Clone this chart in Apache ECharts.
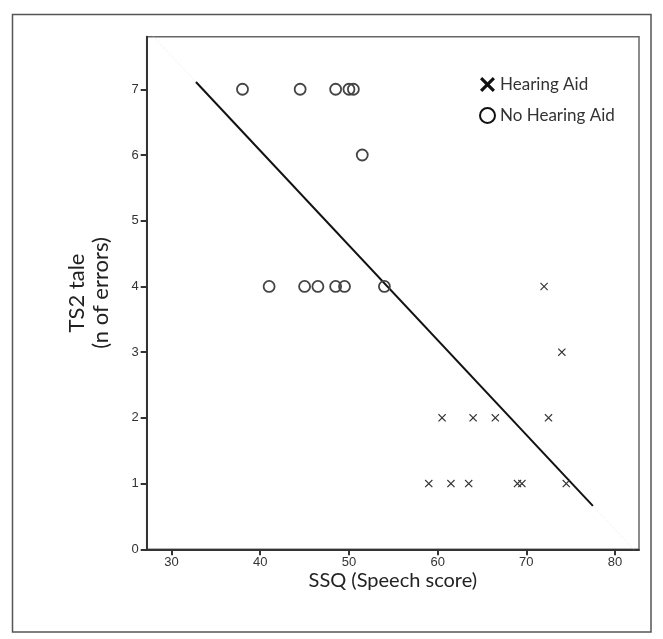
<!DOCTYPE html>
<html>
<head>
<meta charset="utf-8">
<script src="https://cdn.jsdelivr.net/npm/echarts@6/dist/echarts.min.js"></script>
<style>
html, body { margin: 0; padding: 0; background: #fff; }
#chart { width: 663px; height: 639px; }
</style>
</head>
<body>
<div id="chart"></div>
<script>
// 数据
var noAidSSQ = [38, 44.5, 48.5, 50, 50.5, 51.5, 41, 45, 46.5, 48.5, 49.5, 54];
var noAidErr = [7, 7, 7, 7, 7, 6, 4, 4, 4, 4, 4, 4];
var aidSSQ = [72, 74, 60.5, 64, 66.5, 72.5, 59, 61.5, 63.5, 69, 69.5, 74.5];
var aidErr = [4, 3, 2, 2, 2, 2, 1, 1, 1, 1, 1, 1];
var fitX = [32.75, 77.5];
var fitY = [7.11, 0.66];
var fitExtX = [27.96, 82.1];
var fitExtY = [7.8, 0];
var xTicks = [30, 40, 50, 60, 70, 80];
var yTicks = [0, 1, 2, 3, 4, 5, 6, 7];

function pairs(xs, ys) {
    var out = [];
    for (var i = 0; i < xs.length; i++) out.push([xs[i], ys[i]]);
    return out;
}

var crossPath = 'path://M1,0 L5,4 L9,0 L10,1 L6,5 L10,9 L9,10 L5,6 L1,10 L0,9 L4,5 L0,1 Z';
// 图例里的叉更粗
var boldCross = 'path://M1.5,0 L5,3.5 L8.5,0 L10,1.5 L6.5,5 L10,8.5 L8.5,10 L5,6.5 L1.5,10 L0,8.5 L3.5,5 L0,1.5 Z';
var font = 'Liberation Sans, Arial, sans-serif';
var titleFont = 'Lato, Open Sans, sans-serif';

var myChart = echarts.init(document.getElementById('chart'));
var option = {
    animation: false,
    backgroundColor: '#fff',
    graphic: [{
        type: 'rect',
        shape: { x: 12.5, y: 14.5, width: 638.5, height: 617.5 },
        style: { fill: 'none', stroke: '#555', lineWidth: 1.5 },
        z: -1
    }],
    grid: {
        left: 146.7, top: 36.7, width: 492.3, height: 512.6,
        show: true, borderColor: '#666', borderWidth: 1.5, backgroundColor: '#fff'
    },
    legend: {
        left: 474, top: 71, orient: 'vertical',
        itemWidth: 15, itemHeight: 15, itemGap: 14,
        textStyle: { fontFamily: titleFont, fontSize: 17, color: '#333' },
        data: [
            { name: 'Hearing Aid', icon: boldCross, itemStyle: { color: '#111', borderWidth: 0 } },
            { name: 'No Hearing Aid', icon: 'circle', itemStyle: { color: '#fff', borderColor: '#111', borderWidth: 2 } }
        ]
    },
    xAxis: {
        type: 'value', min: 27.2, max: 82.7,
        name: 'SSQ (Speech score)', nameLocation: 'middle', nameGap: 21, nameMoveOverlap: false,
        nameTextStyle: { fontFamily: titleFont, fontSize: 20, color: '#222', verticalAlign: 'top' },
        axisLine: { onZero: false, lineStyle: { color: '#333', width: 2 } },
        axisTick: { show: true, length: 6, customValues: xTicks, lineStyle: { color: '#333', width: 2 } },
        axisLabel: { customValues: xTicks, fontFamily: font, fontSize: 13, color: '#333', margin: 7 },
        splitLine: { show: false }
    },
    yAxis: {
        type: 'value', min: 0, max: 7.8,
        name: 'TS2 tale\n(n of errors)', nameLocation: 'middle', nameGap: 34, nameRotate: 90, nameMoveOverlap: false,
        nameTextStyle: { fontFamily: titleFont, fontSize: 22, lineHeight: 24, color: '#222', align: 'center' },
        axisLine: { onZero: false, lineStyle: { color: '#333', width: 2 } },
        axisTick: { show: true, length: 6, customValues: yTicks, lineStyle: { color: '#333', width: 2 } },
        axisLabel: { customValues: yTicks, fontFamily: font, fontSize: 13, color: '#333', margin: 8 },
        splitLine: { show: false }
    },
    series: [
        {
            name: 'fit-ext', type: 'line', data: pairs(fitExtX, fitExtY),
            symbol: 'none', silent: true,
            lineStyle: { color: '#ececec', width: 1, type: 'dotted' }, z: 1
        },
        {
            name: 'fit', type: 'line', data: pairs(fitX, fitY),
            symbol: 'none', silent: true,
            lineStyle: { color: '#111', width: 2 }, z: 2
        },
        {
            name: 'Hearing Aid', type: 'scatter', data: pairs(aidSSQ, aidErr),
            symbol: crossPath, symbolSize: 8,
            itemStyle: { color: '#333', opacity: 1 }, z: 3
        },
        {
            name: 'No Hearing Aid', type: 'scatter', data: pairs(noAidSSQ, noAidErr),
            symbol: 'circle', symbolSize: 11,
            itemStyle: { color: 'rgba(255,255,255,0)', borderColor: '#444', borderWidth: 1.8, opacity: 1 }, z: 3
        }
    ]
};
myChart.setOption(option);
window.addEventListener('resize', function () { myChart.resize(); });
</script>
</body>
</html>
